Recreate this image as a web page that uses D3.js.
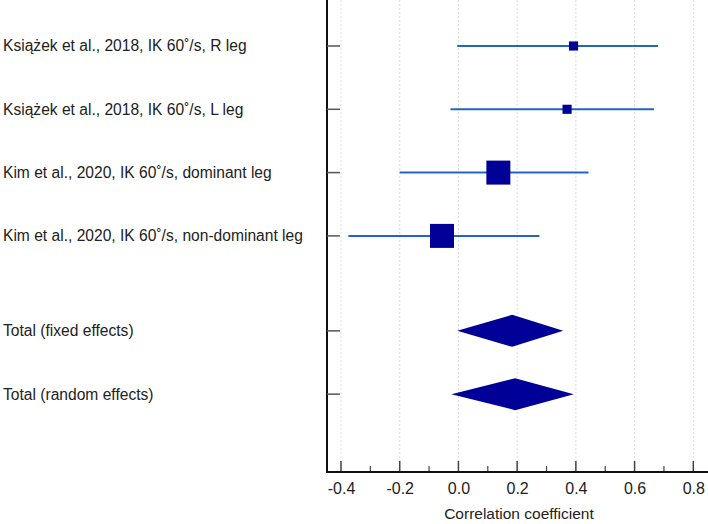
<!DOCTYPE html>
<html><head><meta charset="utf-8">
<script src="https://cdn.jsdelivr.net/npm/d3@7"></script>
<style>body{margin:0;background:#fff}svg{display:block}</style>
</head><body>
<svg id="c" width="708" height="524"></svg>
<script>
const studies = ["Książek et al., 2018, IK 60˚/s, R leg","Książek et al., 2018, IK 60˚/s, L leg","Kim et al., 2020, IK 60˚/s, dominant leg","Kim et al., 2020, IK 60˚/s, non-dominant leg"];
const estimates = [0.392, 0.37, 0.136, -0.056];
const lower = [-0.004, -0.027, -0.20, -0.375];
const upper = [0.68, 0.666, 0.443, 0.276];
const weights = [1, 1, 6.9, 6.9];
const totals = ["Total (fixed effects)","Total (random effects)"];
const totEst = [0.183, 0.193];
const totLow = [-0.004, -0.024];
const totUp = [0.357, 0.393];
const rowPos = [0,1,2,3];
const totPos = [4.5,5.5];
const xTicks = [-0.4,-0.2,0.0,0.2,0.4,0.6,0.8];
const xMinor = [-0.3,-0.1,0.1,0.3,0.5,0.7];

const svg = d3.select("#c");
const x0 = 327, x1 = 708, yBottom = 472;
const x = d3.scaleLinear().domain([-0.4,0.8]).range([341,693.3]);
const y = d3.scaleLinear().domain([0,1]).range([46,109.3]);
const font = "Liberation Sans, Arial, sans-serif";

// grid
svg.append("g").selectAll("line").data(xTicks).join("line")
  .attr("x1",d=>x(d)).attr("x2",d=>x(d)).attr("y1",0).attr("y2",yBottom)
  .attr("stroke","#dcdcdc").attr("stroke-dasharray","2,2").attr("stroke-width",1);

// x axis
const xa = svg.append("g").attr("transform",`translate(0,${yBottom})`)
  .call(d3.axisBottom(x).tickValues(xTicks).tickFormat(d3.format(".1f")).tickSize(0).tickPadding(11));
xa.select(".domain").remove();
xa.selectAll("text").attr("font-family",font).attr("font-size",16).attr("fill","#222")
  .text(d=>d3.format(".1f")(d).replace("−","-"));
svg.append("g").selectAll("line").data(xTicks).join("line")
  .attr("x1",d=>x(d)).attr("x2",d=>x(d)).attr("y1",yBottom-11).attr("y2",yBottom)
  .attr("stroke","#444").attr("stroke-width",1.5);
svg.append("g").selectAll("line").data(xMinor).join("line")
  .attr("x1",d=>x(d)).attr("x2",d=>x(d)).attr("y1",yBottom-6).attr("y2",yBottom)
  .attr("stroke","#444").attr("stroke-width",1.2);
svg.append("line").attr("x1",x0-1).attr("x2",x1).attr("y1",yBottom).attr("y2",yBottom)
  .attr("stroke","#111").attr("stroke-width",2);
svg.append("line").attr("x1",x0).attr("x2",x0).attr("y1",0).attr("y2",yBottom)
  .attr("stroke","#111").attr("stroke-width",2);
svg.append("text").attr("x",519).attr("y",519).attr("text-anchor","middle")
  .attr("font-family",font).attr("font-size",15.5).attr("fill","#222").text("Correlation coefficient");

// y ticks
const allPos = rowPos.concat(totPos);
svg.append("g").selectAll("line").data(allPos).join("line")
  .attr("x1",x0).attr("x2",x0+13).attr("y1",d=>y(d)).attr("y2",d=>y(d))
  .attr("stroke","#555").attr("stroke-width",1.5);

// labels
const labels = studies.concat(totals);
svg.append("g").selectAll("text").data(labels).join("text")
  .attr("x",3).attr("y",(d,i)=>y(allPos[i])).attr("dy","0.35em")
  .attr("font-family",font).attr("font-size",15.6).attr("fill","#222").text(d=>d);

// CI lines
svg.append("g").selectAll("line").data(estimates).join("line")
  .attr("x1",(d,i)=>x(lower[i])).attr("x2",(d,i)=>x(upper[i]))
  .attr("y1",(d,i)=>y(rowPos[i])).attr("y2",(d,i)=>y(rowPos[i]))
  .attr("stroke","#2166c2").attr("stroke-width",2);
// squares
const size = d3.scaleSqrt().domain([0,6.9]).range([0,24]);
svg.append("g").selectAll("rect").data(estimates).join("rect")
  .attr("x",(d,i)=>x(d)-size(weights[i])/2).attr("y",(d,i)=>y(rowPos[i])-size(weights[i])/2)
  .attr("width",(d,i)=>size(weights[i])).attr("height",(d,i)=>size(weights[i]))
  .attr("fill","#000099");
// diamonds
svg.append("g").selectAll("path").data(totEst).join("path")
  .attr("d",(d,i)=>{const yy=y(totPos[i]);return `M${x(totLow[i])},${yy}L${x(d)},${yy-16}L${x(totUp[i])},${yy}L${x(d)},${yy+16}Z`;})
  .attr("fill","#000099");
</script>
</body></html>
